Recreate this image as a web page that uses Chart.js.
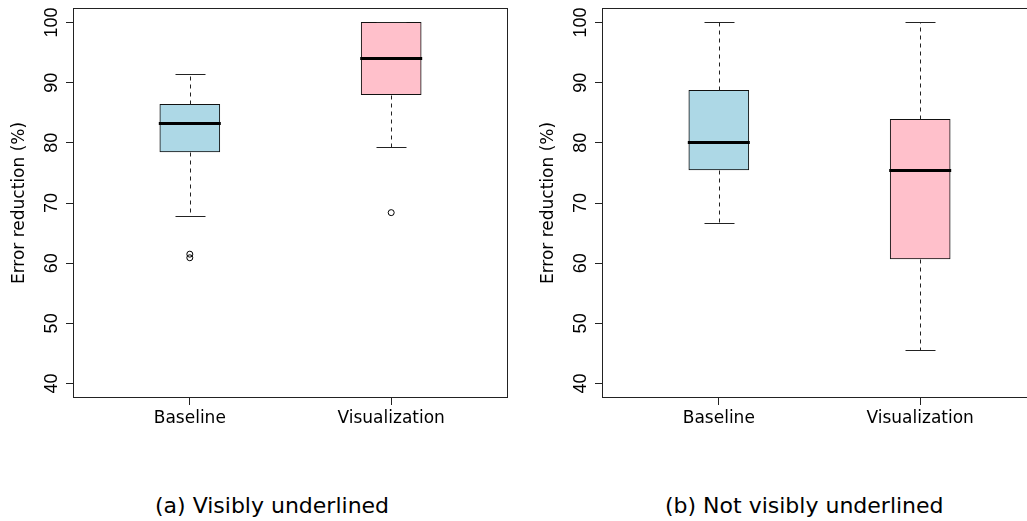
<!DOCTYPE html>
<html>
<head>
<meta charset="utf-8">
<title>Error reduction</title>
<script src="https://cdn.jsdelivr.net/npm/chart.js@4.4.1/dist/chart.umd.min.js"></script>
<style>
    html, body { margin: 0; padding: 0; background: #fff; overflow: hidden; }
    body { width: 1027px; height: 521px; position: relative; }
    canvas { position: absolute; top: 0; }
    #panelA { left: 0; }
    #panelB { left: 529px; }
    .caption {
        position: absolute;
        top: 495px;
        font-family: "DejaVu Sans", sans-serif;
        font-size: 22px;
        line-height: 22px;
        color: #000;
        white-space: nowrap;
    }
    #captionA { left: 155px; }
    #captionB { left: 665px; }
</style>
</head>
<body>
<canvas id="panelA" width="513" height="440"></canvas>
<canvas id="panelB" width="513" height="440"></canvas>
<div class="caption" id="captionA">(a) Visibly underlined</div>
<div class="caption" id="captionB">(b) Not visibly underlined</div>

<script>
/* ===============================
   Data
================================ */
const categories = ['Baseline', 'Visualization'];
const yTicks = [40, 50, 60, 70, 80, 90, 100];
const boxColors = ['#ADD8E6', '#FFC0CB'];

// (a) visibly underlined
const aLower = [67.9, 79.3];
const aQ1 = [78.5, 88.0];
const aMedian = [83.3, 94.1];
const aQ3 = [86.4, 100];
const aUpper = [91.5, 100];
const aOutliers = [[61.5, 60.9], [68.4]];

// (b) not visibly underlined
const bLower = [66.7, 45.5];
const bQ1 = [75.5, 60.7];
const bMedian = [80.2, 75.5];
const bQ3 = [88.7, 83.9];
const bUpper = [100, 100];
const bOutliers = [[], []];

/* ===============================
   Boxplot extras: whiskers, medians, outliers, frame
================================ */
const boxplotExtras = {
    id: 'boxplotExtras',
    afterDatasetsDraw(chart, args, opts) {
        const { ctx, chartArea } = chart;
        const yScale = chart.scales.y;
        const meta = chart.getDatasetMeta(0);
        const px = v => Math.round(yScale.getPixelForValue(v)) + 0.5;

        ctx.save();
        meta.data.forEach((bar, i) => {
            const x = Math.round(bar.x) + 0.5;
            const half = bar.width / 2;
            const yQ1 = px(opts.q1[i]);
            const yQ3 = px(opts.q3[i]);
            const yLo = px(opts.lower[i]);
            const yHi = px(opts.upper[i]);

            // dashed whiskers
            ctx.strokeStyle = '#222';
            ctx.lineWidth = 1;
            ctx.setLineDash([4, 4]);
            ctx.beginPath();
            ctx.moveTo(x, yQ3);
            ctx.lineTo(x, yHi);
            ctx.moveTo(x, yQ1);
            ctx.lineTo(x, yLo);
            ctx.stroke();

            // staples
            ctx.setLineDash([]);
            ctx.beginPath();
            ctx.moveTo(x - half / 2, yHi);
            ctx.lineTo(x + half / 2, yHi);
            ctx.moveTo(x - half / 2, yLo);
            ctx.lineTo(x + half / 2, yLo);
            ctx.stroke();

            // median
            const yMed = Math.round(yScale.getPixelForValue(opts.median[i]));
            ctx.strokeStyle = '#000';
            ctx.lineWidth = 3;
            ctx.beginPath();
            ctx.moveTo(bar.x - half - 1, yMed + 0.5);
            ctx.lineTo(bar.x + half + 1, yMed + 0.5);
            ctx.stroke();

            // outliers
            ctx.lineWidth = 1;
            (opts.outliers[i] || []).forEach(v => {
                ctx.beginPath();
                ctx.arc(bar.x, yScale.getPixelForValue(v), 3, 0, Math.PI * 2);
                ctx.stroke();
            });
        });

        // rotated y tick labels
        ctx.fillStyle = '#000';
        ctx.font = '18px "Liberation Sans", Arial, sans-serif';
        ctx.textAlign = 'center';
        ctx.textBaseline = 'alphabetic';
        yScale.ticks.forEach(t => {
            ctx.save();
            ctx.translate(chartArea.left - 16, yScale.getPixelForValue(t.value));
            ctx.rotate(-Math.PI / 2);
            ctx.fillText(String(t.value), 0, 0);
            ctx.restore();
        });

        // plot frame
        ctx.strokeStyle = '#222';
        ctx.lineWidth = 1;
        ctx.strokeRect(chartArea.left + 0.5, chartArea.top + 0.5,
            chartArea.right - chartArea.left - 1, chartArea.bottom - chartArea.top - 1);
        ctx.restore();
    }
};

/* ===============================
   Chart builder
================================ */
function makeBoxChart(canvasId, lower, q1, median, q3, upper, outliers) {
    const ctx = document.getElementById(canvasId);
    return new Chart(ctx, {
        type: 'bar',
        data: {
            datasets: [{
                data: categories.map((c, i) => ({ x: i + 1, y: [q1[i], q3[i]] })),
                backgroundColor: boxColors,
                borderColor: '#111',
                borderWidth: 1,
                borderSkipped: false,
                barThickness: 60
            }]
        },
        options: {
            responsive: false,
            animation: false,
            devicePixelRatio: 1,
            layout: { padding: { top: 8, right: 5, bottom: 0, left: 0 } },
            plugins: {
                legend: { display: false },
                tooltip: { enabled: false },
                boxplotExtras: { lower, q1, median, q3, upper, outliers }
            },
            scales: {
                x: {
                    type: 'linear',
                    offset: false,
                    min: 0.42,
                    max: 2.58,
                    afterBuildTicks: scale => {
                        scale.ticks = categories.map((c, i) => ({ value: i + 1 }));
                    },
                    afterFit: scale => { scale.height = 42; },
                    grid: { offset: false, drawOnChartArea: false, tickLength: 7, color: '#222' },
                    border: { display: false },
                    ticks: {
                        callback: v => categories[v - 1],
                        color: '#000',
                        padding: 3,
                        maxRotation: 0,
                        font: { family: '"DejaVu Sans", sans-serif', size: 17 }
                    }
                },
                y: {
                    min: 37.6,
                    max: 102.4,
                    afterBuildTicks: scale => {
                        scale.ticks = yTicks.map(v => ({ value: v }));
                    },
                    afterFit: scale => { scale.width = 73; },
                    grid: { drawOnChartArea: false, tickLength: 7, color: '#222' },
                    border: { display: false },
                    ticks: { display: false },
                    title: {
                        display: true,
                        text: 'Error reduction (%)',
                        color: '#000',
                        padding: { top: 9, bottom: 0 },
                        font: { family: '"DejaVu Sans", sans-serif', size: 17 }
                    }
                }
            }
        },
        plugins: [boxplotExtras]
    });
}

makeBoxChart('panelA', aLower, aQ1, aMedian, aQ3, aUpper, aOutliers);
makeBoxChart('panelB', bLower, bQ1, bMedian, bQ3, bUpper, bOutliers);
</script>
</body>
</html>
